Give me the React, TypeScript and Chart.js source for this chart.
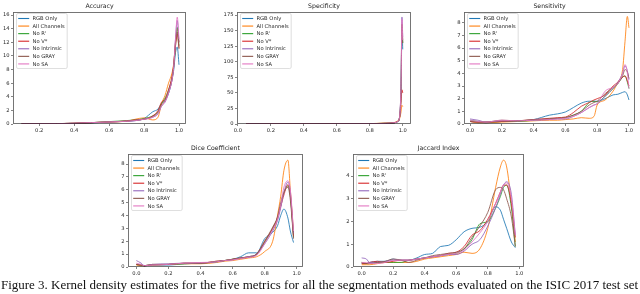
import React, { useEffect, useRef } from "react";
import { Chart, registerables } from "chart.js";
Chart.register(...registerables);

const SERIES_NAMES = ["RGB Only", "All Channels", "No R'", "No V*", "No Intrinsic", "No GRAY", "No SA"];
const SERIES_COLORS = ["#1f77b4", "#ff7f0e", "#2ca02c", "#d62728", "#9467bd", "#8c564b", "#e377c2"];

// ---------- Accuracy ----------
const accX = [0.1, 0.2, 0.3, 0.4, 0.5, 0.6, 0.7, 0.75, 0.8, 0.85, 0.88, 0.9, 0.92, 0.94, 0.96, 0.97, 0.98, 0.99, 1.0];
const accRGB = [0.02, 0.03, 0.05, 0.1, 0.15, 0.3, 0.4, 0.5, 0.8, 1.8, 2.2, 3.0, 3.5, 4.5, 6.5, 8.0, 10.5, 11.3, 8.7];
const accAll = [0.02, 0.03, 0.05, 0.1, 0.2, 0.3, 0.4, 0.7, 0.9, 0.6, 1.0, 3.0, 4.2, 6.0, 7.5, 9.0, 12.0, 14.0, 12.0];
const accNoR = [0.02, 0.03, 0.06, 0.1, 0.2, 0.35, 0.5, 0.6, 0.8, 1.2, 1.8, 3.0, 3.8, 5.0, 6.8, 8.5, 11.5, 14.2, 11.5];
const accNoV = [0.02, 0.03, 0.05, 0.12, 0.2, 0.3, 0.45, 0.6, 0.7, 1.2, 2.0, 3.2, 3.6, 5.0, 7.0, 8.7, 11.5, 13.2, 11.2];
const accNoIntr = [0.02, 0.03, 0.05, 0.1, 0.2, 0.3, 0.4, 0.5, 0.7, 1.0, 1.5, 2.6, 3.2, 4.5, 6.5, 8.5, 12.5, 15.2, 12.0];
const accNoGray = [0.02, 0.03, 0.05, 0.1, 0.2, 0.3, 0.4, 0.55, 0.7, 1.1, 1.7, 2.8, 3.4, 4.8, 6.6, 8.8, 12.0, 13.5, 11.0];
const accNoSA = [0.02, 0.03, 0.05, 0.1, 0.2, 0.3, 0.4, 0.5, 0.7, 1.0, 1.6, 2.7, 3.3, 4.6, 6.5, 8.5, 12.5, 15.7, 12.5];
const accXTicks = [0.2, 0.4, 0.6, 0.8, 1.0];
const accYTicks = [0, 2, 4, 6, 8, 10, 12, 14, 16];

// ---------- Specificity ----------
const specX = [0.05, 0.2, 0.4, 0.6, 0.8, 0.9, 0.95, 0.97, 0.98, 0.99, 0.995, 1.0];
const specRGB = [0.1, 0.1, 0.1, 0.3, 0.5, 1.0, 2.0, 4.0, 10, 60, 150, 120];
const specAll = [0.1, 0.1, 0.2, 0.3, 0.6, 1.5, 2.5, 5.0, 8, 20, 30, 28];
const specNoR = [0.1, 0.1, 0.1, 0.3, 0.5, 1.2, 2.0, 4.0, 10, 60, 160, 130];
const specNoV = [0.1, 0.1, 0.1, 0.3, 0.5, 1.2, 2.2, 4.5, 9, 35, 55, 50];
const specNoIntr = [0.1, 0.1, 0.1, 0.2, 0.4, 1.0, 2.0, 4.0, 10, 70, 172, 140];
const specNoGray = [0.1, 0.1, 0.1, 0.3, 0.5, 1.1, 2.0, 4.0, 10, 65, 160, 130];
const specNoSA = [0.1, 0.1, 0.1, 0.2, 0.4, 1.0, 2.0, 4.0, 10, 70, 168, 135];
const specXTicks = [0.0, 0.2, 0.4, 0.6, 0.8, 1.0];
const specYTicks = [0, 25, 50, 75, 100, 125, 150, 175];

// ---------- Sensitivity ----------
const sensX = [0, 0.05, 0.1, 0.2, 0.3, 0.4, 0.5, 0.55, 0.6, 0.65, 0.7, 0.75, 0.78, 0.8, 0.85, 0.9, 0.93, 0.96, 0.975, 0.99, 1.0];
const sensRGB = [0.2, 0.15, 0.1, 0.2, 0.25, 0.35, 0.7, 0.8, 0.95, 1.3, 1.65, 1.8, 1.8, 1.8, 2.0, 2.3, 2.35, 2.5, 2.55, 2.3, 1.9];
const sensAll = [0.2, 0.1, 0.1, 0.15, 0.2, 0.25, 0.3, 0.3, 0.35, 0.4, 0.5, 0.45, 0.6, 1.5, 1.9, 2.6, 3.3, 4.3, 6.5, 8.5, 7.6];
const sensNoR = [0.3, 0.2, 0.15, 0.2, 0.2, 0.3, 0.4, 0.45, 0.5, 0.7, 1.0, 1.7, 1.8, 1.75, 2.2, 2.8, 3.2, 3.7, 3.8, 3.3, 2.8];
const sensNoV = [0.2, 0.15, 0.15, 0.2, 0.25, 0.35, 0.45, 0.5, 0.55, 0.9, 1.4, 1.7, 1.9, 2.0, 2.3, 3.0, 3.3, 3.7, 3.8, 3.4, 3.0];
const sensNoIntr = [0.4, 0.3, 0.15, 0.25, 0.25, 0.3, 0.35, 0.4, 0.4, 0.6, 0.9, 1.3, 1.5, 1.6, 2.2, 2.8, 3.3, 4.0, 4.6, 4.2, 3.5];
const sensNoGray = [0.2, 0.15, 0.15, 0.3, 0.25, 0.35, 0.4, 0.45, 0.5, 0.7, 1.0, 1.5, 1.7, 1.8, 2.4, 2.9, 3.2, 3.8, 4.3, 4.1, 3.6];
const sensNoSA = [0.3, 0.2, 0.15, 0.3, 0.25, 0.3, 0.35, 0.4, 0.45, 0.6, 0.9, 1.3, 1.5, 1.6, 2.6, 2.9, 3.2, 4.0, 4.7, 4.0, 2.8];
const sensXTicks = [0.0, 0.2, 0.4, 0.6, 0.8, 1.0];
const sensYTicks = [0, 1, 2, 3, 4, 5, 6, 7, 8];

// ---------- Dice Coefficient ----------
const diceX = [0, 0.03, 0.05, 0.1, 0.2, 0.3, 0.4, 0.5, 0.55, 0.6, 0.65, 0.7, 0.75, 0.8, 0.85, 0.88, 0.9, 0.92, 0.945, 0.96, 0.98];
const diceRGB = [0.2, 0.15, 0.1, 0.15, 0.15, 0.25, 0.3, 0.4, 0.5, 0.6, 0.8, 1.1, 1.1, 2.2, 2.7, 3.2, 4.0, 4.5, 3.8, 2.8, 1.9];
const diceAll = [0.15, 0.1, 0.1, 0.15, 0.2, 0.25, 0.25, 0.35, 0.45, 0.5, 0.6, 0.7, 0.8, 1.2, 2.0, 4.0, 5.5, 7.5, 8.3, 6.0, 2.7];
const diceNoR = [0.2, 0.15, 0.1, 0.2, 0.2, 0.25, 0.3, 0.4, 0.5, 0.6, 0.7, 0.8, 1.0, 1.9, 3.0, 3.8, 4.8, 5.8, 6.3, 5.5, 2.3];
const diceNoV = [0.2, 0.15, 0.1, 0.2, 0.2, 0.3, 0.3, 0.45, 0.5, 0.6, 0.7, 0.8, 1.0, 2.0, 3.0, 3.8, 4.7, 5.6, 6.4, 5.6, 2.4];
const diceNoIntr = [0.5, 0.3, 0.1, 0.2, 0.25, 0.3, 0.3, 0.4, 0.5, 0.55, 0.7, 0.8, 1.0, 1.8, 2.8, 3.6, 4.6, 5.8, 6.6, 5.8, 2.6];
const diceNoGray = [0.2, 0.15, 0.1, 0.15, 0.2, 0.3, 0.3, 0.45, 0.5, 0.6, 0.7, 0.75, 1.0, 2.0, 3.1, 3.9, 5.0, 5.8, 6.2, 5.2, 2.2];
const diceNoSA = [0.3, 0.2, 0.1, 0.15, 0.2, 0.3, 0.35, 0.4, 0.5, 0.55, 0.65, 0.75, 0.9, 1.8, 2.9, 3.7, 4.8, 6.2, 6.7, 6.0, 2.8];
const diceXTicks = [0.0, 0.2, 0.4, 0.6, 0.8, 1.0];
const diceYTicks = [0, 1, 2, 3, 4, 5, 6, 7, 8];

// ---------- Jaccard Index ----------
const jacX = [0, 0.03, 0.05, 0.1, 0.15, 0.2, 0.25, 0.3, 0.35, 0.4, 0.45, 0.5, 0.55, 0.6, 0.65, 0.7, 0.75, 0.8, 0.85, 0.88, 0.9, 0.92, 0.95, 0.975];
const jacRGB = [0.15, 0.15, 0.2, 0.25, 0.25, 0.35, 0.3, 0.3, 0.4, 0.55, 0.6, 0.9, 0.95, 1.2, 1.55, 1.7, 1.75, 2.0, 2.65, 2.5, 2.1, 1.7, 1.1, 0.85];
const jacAll = [0.1, 0.1, 0.1, 0.15, 0.2, 0.2, 0.2, 0.2, 0.25, 0.35, 0.4, 0.45, 0.5, 0.55, 0.65, 0.6, 0.8, 1.7, 3.5, 4.4, 4.7, 4.4, 2.8, 1.1];
const jacNoR = [0.2, 0.15, 0.15, 0.2, 0.2, 0.2, 0.2, 0.3, 0.35, 0.4, 0.45, 0.5, 0.55, 0.6, 0.8, 1.2, 1.9, 2.0, 2.6, 3.1, 3.5, 3.6, 2.6, 0.9];
const jacNoV = [0.15, 0.15, 0.2, 0.25, 0.2, 0.25, 0.3, 0.3, 0.35, 0.4, 0.45, 0.5, 0.6, 0.65, 0.9, 1.4, 1.6, 2.1, 2.8, 3.3, 3.6, 3.6, 2.8, 1.3];
const jacNoIntr = [0.4, 0.35, 0.2, 0.2, 0.25, 0.3, 0.3, 0.3, 0.35, 0.4, 0.45, 0.5, 0.55, 0.55, 0.7, 1.0, 1.2, 1.8, 2.6, 3.2, 3.6, 3.75, 3.2, 1.4];
const jacNoGray = [0.2, 0.15, 0.15, 0.2, 0.25, 0.35, 0.3, 0.2, 0.3, 0.4, 0.5, 0.55, 0.6, 0.65, 0.8, 1.3, 1.8, 2.4, 3.4, 3.5, 3.4, 3.0, 2.2, 0.9];
const jacNoSA = [0.2, 0.2, 0.15, 0.15, 0.2, 0.3, 0.3, 0.3, 0.35, 0.4, 0.45, 0.5, 0.55, 0.6, 0.75, 1.1, 1.5, 2.0, 2.8, 3.3, 3.6, 3.7, 3.0, 1.4];
const jacXTicks = [0.0, 0.2, 0.4, 0.6, 0.8, 1.0];
const jacYTicks = [0, 1, 2, 3, 4];

const CAPTION = "Figure 3. Kernel density estimates for the five metrics for all the segmentation methods evaluated on the ISIC 2017 test set";

type PlotSpec = {
  title: string;
  xs: number[];
  series: number[][];
  xTicks: number[];
  yTicks: number[];
  xMin: number; xMax: number; yMax: number;
  box: { left: number; top: number; right: number; bottom: number };
};

const PLOTS: PlotSpec[] = [
  { title: "Accuracy", xs: accX, series: [accRGB, accAll, accNoR, accNoV, accNoIntr, accNoGray, accNoSA],
    xTicks: accXTicks, yTicks: accYTicks, xMin: 0.05, xMax: 1.04, yMax: 16.45,
    box: { left: 13, top: 12, right: 186, bottom: 124 } },
  { title: "Specificity", xs: specX, series: [specRGB, specAll, specNoR, specNoV, specNoIntr, specNoGray, specNoSA],
    xTicks: specXTicks, yTicks: specYTicks, xMin: -0.005, xMax: 1.05, yMax: 180,
    box: { left: 237, top: 12, right: 411, bottom: 124 } },
  { title: "Sensitivity", xs: sensX, series: [sensRGB, sensAll, sensNoR, sensNoV, sensNoIntr, sensNoGray, sensNoSA],
    xTicks: sensXTicks, yTicks: sensYTicks, xMin: -0.038, xMax: 1.038, yMax: 8.85,
    box: { left: 464, top: 12, right: 635, bottom: 124 } },
  { title: "Dice Coefficient", xs: diceX, series: [diceRGB, diceAll, diceNoR, diceNoV, diceNoIntr, diceNoGray, diceNoSA],
    xTicks: diceXTicks, yTicks: diceYTicks, xMin: -0.052, xMax: 1.039, yMax: 8.78,
    box: { left: 128, top: 154, right: 303, bottom: 267 } },
  { title: "Jaccard Index", xs: jacX, series: [jacRGB, jacAll, jacNoR, jacNoV, jacNoIntr, jacNoGray, jacNoSA],
    xTicks: jacXTicks, yTicks: jacYTicks, xMin: -0.055, xMax: 1.03, yMax: 4.97,
    box: { left: 353, top: 154, right: 524, bottom: 267 } },
];

const FONT = '"DejaVu Sans", sans-serif';
const TITLE_H = 12;
const XAXIS_H = 14;
const RIGHT_PAD = 5;

const framePlugin = {
  id: "frameAndLegend",
  afterDatasetsDraw(chart: any) {
    const { ctx, chartArea } = chart;
    ctx.save();
    ctx.strokeStyle = "rgba(0,0,0,0.6)";
    ctx.lineWidth = 0.9;
    ctx.strokeRect(chartArea.left + 0.5, chartArea.top + 0.5, chartArea.right - chartArea.left - 1, chartArea.bottom - chartArea.top - 1);
    const fs = 5.2;
    ctx.font = `${fs}px ${FONT}`;
    const ds = chart.data.datasets;
    const maxW = Math.max(...ds.map((d: any) => ctx.measureText(d.label).width));
    const x0 = chartArea.left + 3.5;
    const y0 = chartArea.top + 1.5;
    const rowH = 7.57;
    const w = 16 + maxW + 2.6;
    const h = 5 + (ds.length - 1) * rowH + 4.6;
    ctx.beginPath();
    (ctx as any).roundRect(x0, y0, w, h, 1.5);
    ctx.fillStyle = "rgba(255,255,255,0.8)";
    ctx.fill();
    ctx.strokeStyle = "#d6d6d6";
    ctx.lineWidth = 0.8;
    ctx.stroke();
    ds.forEach((d: any, i: number) => {
      const cy = y0 + 5 + i * rowH;
      ctx.beginPath();
      ctx.moveTo(x0 + 1.7, cy);
      ctx.lineTo(x0 + 12.7, cy);
      ctx.strokeStyle = d.borderColor;
      ctx.lineWidth = 1.1;
      ctx.stroke();
      ctx.fillStyle = "#262626";
      ctx.textBaseline = "middle";
      ctx.textAlign = "left";
      ctx.fillText(d.label, x0 + 16, cy + 0.3);
    });
    ctx.font = `6.2px ${FONT}`;
    ctx.fillStyle = "#1a1a1a";
    ctx.textAlign = "center";
    ctx.textBaseline = "middle";
    ctx.fillText(chart.options.plugins.plotTitle.text, (chartArea.left + chartArea.right) / 2, chartArea.top - 6);
    ctx.restore();
  },
};

function Plot({ spec }: { spec: PlotSpec }) {
  const ref = useRef<HTMLCanvasElement>(null);
  const yW = Math.min(20, spec.box.left);
  const cw = yW + (spec.box.right - spec.box.left) + RIGHT_PAD;
  const ch = TITLE_H + (spec.box.bottom - spec.box.top) + XAXIS_H;
  useEffect(() => {
    const datasets = spec.series.map((ys, i) => ({
      label: SERIES_NAMES[i],
      data: spec.xs.map((x, j) => ({ x, y: ys[j] })),
      borderColor: SERIES_COLORS[i],
      backgroundColor: SERIES_COLORS[i],
      borderWidth: 0.85,
      pointRadius: 0,
      fill: false,
      cubicInterpolationMode: "monotone" as const,
      order: SERIES_NAMES.length - i,
    }));
    const tickFont = { size: 5.2, family: FONT };
    const chart = new Chart(ref.current!, {
      type: "line",
      data: { datasets },
      plugins: [framePlugin],
      options: {
        responsive: false,
        animation: false,
        devicePixelRatio: 1,
        layout: { padding: { top: TITLE_H, right: RIGHT_PAD, left: 0, bottom: 0 } },
        plugins: {
          legend: { display: false },
          tooltip: { enabled: false },
          title: { display: false },
          plotTitle: { text: spec.title },
        } as any,
        scales: {
          x: {
            type: "linear",
            min: spec.xMin,
            max: spec.xMax,
            afterBuildTicks: (s: any) => { s.ticks = spec.xTicks.map((v) => ({ value: v })); },
            afterFit: (s: any) => { s.height = XAXIS_H; },
            ticks: { font: tickFont, color: "#262626", padding: 1.5, maxRotation: 0, autoSkip: false,
              callback: (v: any) => Number(v).toFixed(1) },
            grid: { drawOnChartArea: false, drawTicks: true, tickLength: 2, color: "rgba(0,0,0,0.6)", lineWidth: 0.8 },
            border: { display: false },
          },
          y: {
            type: "linear",
            min: 0,
            max: spec.yMax,
            afterBuildTicks: (s: any) => { s.ticks = spec.yTicks.map((v) => ({ value: v })); },
            afterFit: (s: any) => { s.width = yW; },
            ticks: { font: tickFont, color: "#262626", padding: 1.5, autoSkip: false,
              callback: (v: any) => String(v) },
            grid: { drawOnChartArea: false, drawTicks: true, tickLength: 2, color: "rgba(0,0,0,0.6)", lineWidth: 0.8 },
            border: { display: false },
          },
        },
      } as any,
    });
    return () => chart.destroy();
  }, [spec]);
  return (
    <canvas
      ref={ref}
      width={cw}
      height={ch}
      style={{ position: "absolute", left: spec.box.left - yW, top: spec.box.top - TITLE_H, width: cw, height: ch }}
    />
  );
}

function captionFontSize(): number {
  const c = document.createElement("canvas").getContext("2d")!;
  c.font = '100px "Liberation Serif", serif';
  const w = c.measureText(CAPTION).width;
  return (638 / w) * 100;
}

export default function App() {
  useEffect(() => {
    document.body.style.margin = "0";
  }, []);
  const fs = captionFontSize();
  return (
    <div style={{ position: "fixed", left: 0, top: 0, width: 640, height: 294, background: "#fff", overflow: "hidden" }}>
      {PLOTS.map((p) => (
        <Plot key={p.title} spec={p} />
      ))}
      <div
        style={{
          position: "absolute",
          left: 1,
          top: 289 - fs * 0.84,
          fontFamily: '"Liberation Serif", serif',
          fontSize: fs,
          lineHeight: 1,
          whiteSpace: "nowrap",
          color: "#111",
        }}
      >
        {CAPTION}
      </div>
    </div>
  );
}
